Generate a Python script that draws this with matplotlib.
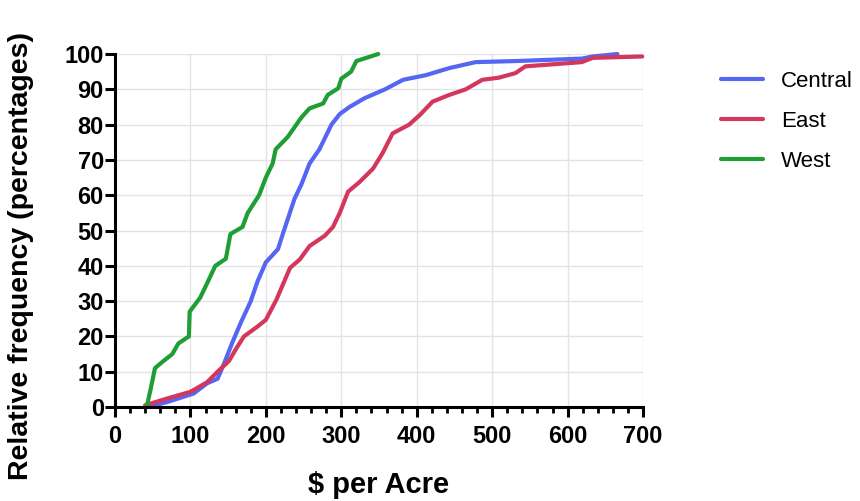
import numpy as np
import matplotlib.pyplot as plt
from matplotlib.ticker import MultipleLocator

# cumulative curves ($ per acre, relative frequency %)
central_x = [44, 69, 104, 122, 136, 144, 156, 167, 180, 189, 200, 216, 224, 238, 247,
             258, 271, 287, 298, 311, 331, 358, 382, 412, 443, 478, 531, 619, 633, 666]
central_y = [0, 1.4, 3.8, 6.7, 8, 12, 18.5, 24, 30, 35.6, 41, 44.7, 50, 59, 63,
             69, 73, 80, 83, 85, 87.5, 90, 92.7, 94, 96, 97.7, 98, 98.7, 99.3, 100]

east_x = [40, 69, 100, 122, 136, 151, 162, 171, 189, 200, 214, 232, 245, 258, 278,
          289, 298, 309, 324, 342, 355, 368, 390, 404, 421, 443, 465, 487, 509, 531,
          544, 575, 619, 633, 699]
east_y = [0.5, 2.4, 4.3, 7, 10, 13, 17, 20, 22.8, 24.7, 30.4, 39.4, 41.8, 45.6, 48.5,
          51, 55, 61, 63.7, 67.5, 72, 77.5, 80, 82.7, 86.5, 88.4, 90, 92.7, 93.3, 94.6,
          96.5, 97, 97.7, 98.9, 99.3]

west_x = [42, 47, 53, 64, 76, 84, 98, 99, 113, 122, 133, 147, 153, 169, 176, 191,
          200, 209, 213, 229, 247, 258, 276, 282, 296, 300, 313, 320, 349]
west_y = [0, 4.8, 11, 13, 15, 18, 20, 27, 31, 35, 40, 42, 49, 51, 55, 60,
          65, 69, 73, 76.5, 82, 84.6, 86, 88.4, 90.3, 93, 95, 98, 100]

series = [("Central", central_x, central_y, "#5566F2"),
          ("East", east_x, east_y, "#D3385C"),
          ("West", west_x, west_y, "#1E9E34")]

plt.rcParams['font.family'] = ['Liberation Sans', 'DejaVu Sans']

fig = plt.figure(figsize=(8.6, 5.01), dpi=100)
ax = fig.add_axes([0.1337, 0.1876, 0.614, 0.7046])

for name, xs, ys, col in series:
    ax.plot(xs, ys, color=col, lw=3.0, label=name, solid_joinstyle='round',
            solid_capstyle='round', clip_on=False)

ax.set_xlim(0, 700)
ax.set_ylim(0, 100)
ax.xaxis.set_major_locator(MultipleLocator(100))
ax.xaxis.set_minor_locator(MultipleLocator(20))
ax.yaxis.set_major_locator(MultipleLocator(10))
ax.grid(True, which='major', color='#e3e3e3', lw=1)
ax.set_axisbelow(True)

for s in ['top', 'right']:
    ax.spines[s].set_visible(False)
for s in ['left', 'bottom']:
    ax.spines[s].set_linewidth(2.2)
ax.tick_params(which='major', direction='out', length=7, width=2.2, labelsize=17)
ax.tick_params(axis='x', which='major', pad=6)
ax.tick_params(axis='y', which='major', pad=1)
ax.tick_params(which='minor', direction='out', length=4, width=2.0)
for lab in ax.get_xticklabels() + ax.get_yticklabels():
    lab.set_fontweight('bold')

ax.set_xlabel(r"\$ per Acre", fontsize=21, fontweight='bold')
ax.set_ylabel("Relative frequency (percentages)", fontsize=20.5, fontweight='bold')
ax.xaxis.set_label_coords(0.5, -0.18)
ax.yaxis.set_label_coords(-0.153, 0.428)

fig.legend(loc='upper left', bbox_to_anchor=(0.815, 0.898), frameon=False,
           fontsize=16, handlelength=1.9, labelspacing=0.85, handletextpad=0.8)

fig.savefig("out.png", dpi=100)
